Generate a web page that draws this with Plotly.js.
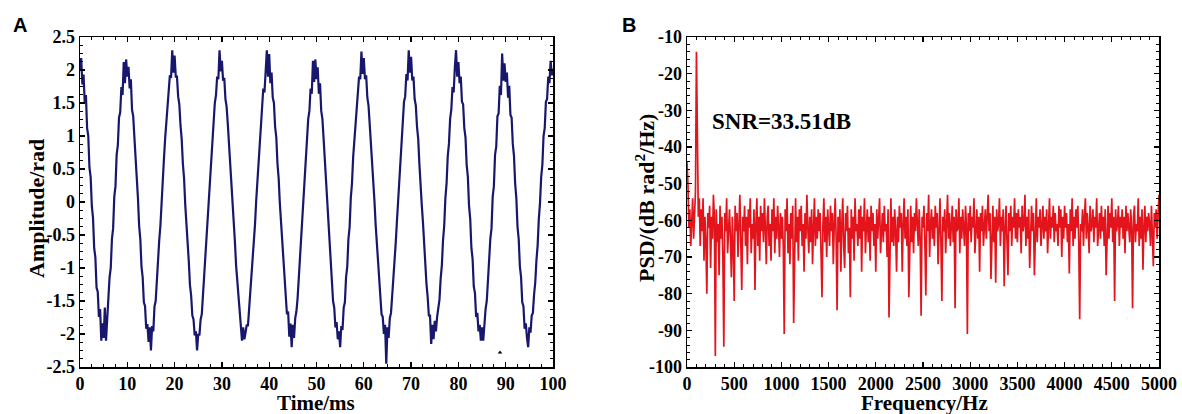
<!DOCTYPE html>
<html>
<head>
<meta charset="utf-8">
<script src="https://cdn.plot.ly/plotly-3.0.1.min.js"></script>
<style>html,body{margin:0;padding:0;background:#fff;}#chart{width:1182px;height:414px;}</style>
</head>
<body>
<div id="chart"></div>
<script>
// ---- Panel A: phase signal (sampled every 0.25 ms from 0 ms) ----
const timeStartMs = 0;
const timeStepMs = 0.25;
const phaseRad = [
  2.00, 2.18, 1.78, 1.93, 1.50, 1.62, 1.12, 1.00, 0.52, 0.38, -0.06, -0.24, -0.70, -0.84, -1.30, -1.36, -1.74, -1.62, -2.10, -1.84,
  -2.06, -1.60, -2.10, -1.72, -1.52, -1.14, -1.00, -0.56, -0.40, 0.08, 0.24, 0.72, 0.86, 1.28, 1.36, 1.74, 1.62, 2.12, 1.80, 2.16,
  1.90, 2.05, 1.72, 1.86, 1.40, 1.30, 0.98, 0.70, 0.36, 0.06, -0.36, -0.56, -0.98, -1.14, -1.52, -1.58, -1.92, -1.85, -2.12, -1.90,
  -2.25, -1.88, -1.96, -1.58, -1.50, -1.16, -0.96, -0.58, -0.36, 0.04, 0.30, 0.66, 0.96, 1.18, 1.50, 1.62, 1.92, 1.88, 2.30, 1.96,
  2.22, 1.90, 1.90, 1.60, 1.48, 1.16, 0.95, 0.58, 0.36, -0.04, -0.30, -0.68, -0.90, -1.26, -1.42, -1.72, -1.78, -2.02, -1.96, -2.25,
  -2.00, -2.02, -1.78, -1.70, -1.40, -1.24, -0.90, -0.66, -0.28, 0.04, 0.36, 0.60, 0.98, 1.16, 1.50, 1.62, 1.90, 1.86, 2.30, 1.98,
  2.14, 1.84, 1.88, 1.56, 1.44, 1.18, 0.90, 0.62, 0.30, 0.02, -0.34, -0.60, -0.96, -1.18, -1.50, -1.62, -1.86, -2.10, -1.90, -2.08,
  -1.98, -1.86, -1.88, -1.62, -1.48, -1.18, -0.94, -0.60, -0.34, 0.02, 0.30, 0.66, 0.92, 1.24, 1.40, 1.72, 1.66, 2.00, 2.30, 1.90,
  2.24, 1.80, 1.96, 1.58, 1.50, 1.14, 0.98, 0.58, 0.36, -0.02, -0.30, -0.66, -0.90, -1.24, -1.44, -1.70, -1.66, -2.04, -1.84, -2.20,
  -1.86, -2.06, -1.76, -1.66, -1.46, -1.16, -0.96, -0.58, -0.38, 0.06, 0.26, 0.70, 0.88, 1.26, 1.38, 1.72, 1.64, 2.14, 1.82, 2.16,
  1.86, 2.04, 1.64, 1.80, 1.38, 1.26, 0.96, 0.66, 0.34, 0.00, -0.36, -0.58, -0.98, -1.16, -1.50, -1.60, -1.90, -1.82, -2.08, -1.96,
  -2.20, -1.88, -1.94, -1.60, -1.52, -1.14, -0.98, -0.56, -0.38, 0.06, 0.28, 0.68, 0.94, 1.20, 1.48, 1.64, 1.90, 1.86, 2.28, 1.94,
  2.18, 1.86, 1.92, 1.58, 1.46, 1.18, 0.92, 0.62, 0.30, 0.02, -0.34, -0.62, -0.92, -1.22, -1.42, -1.70, -1.74, -2.00, -1.86, -2.45,
  -1.90, -2.06, -1.76, -1.68, -1.42, -1.20, -0.92, -0.62, -0.30, 0.00, 0.36, 0.58, 0.98, 1.14, 1.52, 1.60, 1.94, 1.84, 2.30, 1.96,
  2.20, 1.84, 1.90, 1.56, 1.46, 1.14, 0.96, 0.58, 0.34, -0.04, -0.30, -0.66, -0.92, -1.24, -1.44, -1.72, -1.72, -2.15, -1.86, -2.08,
  -1.80, -1.96, -1.74, -1.62, -1.48, -1.16, -0.96, -0.58, -0.36, 0.06, 0.28, 0.70, 0.88, 1.26, 1.40, 1.74, 1.66, 2.04, 2.30, 1.90,
  2.12, 1.80, 1.90, 1.52, 1.48, 1.12, 0.98, 0.56, 0.38, -0.06, -0.26, -0.70, -0.86, -1.28, -1.38, -1.74, -1.68, -1.96, -1.86, -2.10,
  -1.90, -2.10, -1.82, -1.62, -1.50, -1.14, -0.98, -0.56, -0.40, 0.08, 0.24, 0.72, 0.84, 1.30, 1.34, 1.76, 1.62, 2.25, 1.84, 2.10,
  1.82, 1.96, 1.58, 1.76, 1.32, 1.28, 0.88, 0.70, 0.28, 0.06, -0.38, -0.56, -0.98, -1.14, -1.52, -1.58, -1.92, -1.84, -2.06, -2.20,
  -1.90, -1.98, -1.72, -1.68, -1.40, -1.22, -0.88, -0.66, -0.26, -0.02, 0.38, 0.56, 1.00, 1.12, 1.52, 1.56, 1.90, 1.80, 2.14, 1.92,
  2.02
];
const markT = [88.8];
const markV = [-2.28];
const ampTickVals = [-2.5, -2, -1.5, -1, -0.5, 0, 0.5, 1, 1.5, 2, 2.5];
const ampTickText = ['-2.5', '-2', '-1.5', '-1', '-0.5', '0', '0.5', '1', '1.5', '2', '2.5'];
const timeTickVals = [0, 10, 20, 30, 40, 50, 60, 70, 80, 90, 100];
const timeTickText = ['0', '10', '20', '30', '40', '50', '60', '70', '80', '90', '100'];

// ---- Panel B: PSD (every 10 Hz from 0 Hz) ----
const freqStartHz = 0;
const freqStepHz = 10;
const psdDb = [
  -44, -50, -62, -57, -67, -59, -54, -65, -57, -52,
  -14, -50, -59, -54, -67, -57, -63, -54, -71, -59,
  -66, -80, -58, -62, -56, -73, -59, -65, -53, -59,
  -97, -57, -66, -61, -75, -56, -65, -59, -70, -94.5,
  -58, -63, -54, -69, -61, -57, -65, -75.5, -59, -67,
  -82, -56, -63, -58, -70, -62, -53, -66, -79, -59,
  -63, -56, -67, -59, -72, -57, -62, -54, -69, -61,
  -65, -57, -79, -61, -54, -67, -59, -71, -56, -63,
  -58, -66, -54, -62, -72, -59, -56, -67, -61, -71,
  -57, -63, -54, -69, -59, -65, -56, -62, -70, -58,
  -65, -59, -67, -91, -57, -63, -54, -69, -61, -72,
  -58, -65, -56, -88, -62, -54, -66, -59, -71, -57,
  -63, -56, -67, -61, -74, -58, -65, -53, -62, -69,
  -59, -66, -57, -72, -62, -54, -67, -59, -65, -57,
  -63, -58, -69, -81, -61, -54, -66, -59, -70, -57,
  -62, -67, -56, -63, -58, -72, -61, -54, -65, -84.5,
  -59, -66, -57, -74, -61, -54, -67, -73, -58, -63,
  -56, -69, -62, -81, -57, -65, -59, -71, -54, -63,
  -61, -67, -57, -65, -56, -74, -59, -63, -54, -69,
  -62, -57, -66, -59, -71, -56, -63, -58, -67, -61,
  -74, -57, -65, -59, -54, -69, -62, -58, -66, -56,
  -63, -61, -70, -57, -86.5, -62, -54, -66, -59, -67,
  -57, -63, -74, -59, -66, -56, -62, -58, -74, -61,
  -54, -65, -59, -67, -57, -81, -62, -56, -66, -59,
  -69, -58, -63, -54, -61, -67, -57, -65, -86, -59,
  -62, -56, -66, -80.5, -58, -63, -53, -70, -61, -57,
  -65, -59, -67, -56, -62, -58, -72, -61, -54, -66,
  -82, -59, -63, -57, -69, -61, -53, -65, -58, -67,
  -61, -56, -66, -59, -84, -57, -63, -62, -54, -69,
  -59, -65, -57, -62, -67, -56, -61, -91, -58, -63,
  -56, -66, -59, -62, -54, -69, -61, -57, -65, -59,
  -74, -58, -63, -56, -67, -61, -57, -65, -59, -53,
  -63, -58, -76, -61, -56, -66, -59, -77, -57, -63,
  -61, -54, -67, -59, -63, -57, -78, -62, -56, -66,
  -75, -58, -63, -56, -67, -59, -62, -54, -65, -58,
  -66, -57, -62, -59, -69, -56, -63, -61, -53, -67,
  -59, -65, -57, -73, -61, -56, -63, -58, -75, -62,
  -54, -66, -59, -62, -57, -67, -61, -56, -65, -59,
  -63, -57, -69, -61, -54, -65, -59, -62, -56, -66,
  -58, -63, -61, -67, -56, -62, -57, -70, -59, -65,
  -56, -62, -58, -66, -61, -74.5, -57, -63, -54, -67,
  -59, -65, -57, -62, -56, -66, -87, -61, -63, -57,
  -67, -59, -54, -65, -58, -62, -69, -56, -63, -61,
  -57, -66, -59, -62, -54, -67, -61, -58, -65, -56,
  -63, -59, -67, -57, -75, -61, -56, -65, -58, -62,
  -54, -66, -59, -82, -57, -63, -61, -56, -67, -59,
  -62, -57, -65, -59, -69, -56, -63, -58, -61, -66,
  -57, -62, -84, -59, -56, -66, -61, -63, -54, -67,
  -59, -65, -57, -73.5, -62, -56, -66, -59, -63, -58,
  -61, -67, -56, -63, -72.5, -58, -62, -57, -65, -59,
  -53
];
const psdTickVals = [-100, -90, -80, -70, -60, -50, -40, -30, -20, -10];
const psdTickText = ['-100', '-90', '-80', '-70', '-60', '-50', '-40', '-30', '-20', '-10'];
const freqTickVals = [0, 500, 1000, 1500, 2000, 2500, 3000, 3500, 4000, 4500, 5000];
const freqTickText = ['0', '500', '1000', '1500', '2000', '2500', '3000', '3500', '4000', '4500', '5000'];
const snrText = 'SNR=33.51dB';
const titleTimeText = 'Time/ms';
const titleAmpText = 'Amplitude/rad';
const titleFreqText = 'Frequency/Hz';
const titlePsdText = 'PSD/(dB rad<sup>2</sup>/Hz)';

const serif = 'Liberation Serif, Times New Roman, serif';
const tickFont = {family: serif, size: 18, color: '#000', weight: 700};
const xTitleFont = {family: serif, size: 21, color: '#000', weight: 700};
const yTitleFont = {family: serif, size: 22, color: '#000', weight: 700};
const W = 1182, H = 414;

function axisBase(extra) {
  return Object.assign({
    showline: true, linecolor: '#000', linewidth: 1.5, mirror: 'ticks',
    ticks: 'inside', ticklen: 5, tickwidth: 1.3, tickcolor: '#000',
    showgrid: false, zeroline: false, tickmode: 'array', tickfont: tickFont,
    automargin: false, fixedrange: true
  }, extra);
}

const traces = [
  {type: 'scatter', mode: 'lines', x0: timeStartMs, dx: timeStepMs, y: phaseRad,
   line: {color: '#17176e', width: 2.2}, xaxis: 'x', yaxis: 'y', hoverinfo: 'skip'},
  {type: 'scatter', mode: 'markers', x: markT, y: markV,
   marker: {symbol: 'triangle-up', size: 4, color: '#000'}, xaxis: 'x', yaxis: 'y', hoverinfo: 'skip'},
  {type: 'scatter', mode: 'lines', x0: freqStartHz, dx: freqStepHz, y: psdDb,
   line: {color: '#e3141b', width: 1.7}, xaxis: 'x2', yaxis: 'y2', hoverinfo: 'skip'}
];

const layout = {
  width: W, height: H,
  margin: {l: 0, r: 0, t: 0, b: 0},
  paper_bgcolor: '#fff', plot_bgcolor: '#fff',
  showlegend: false,
  xaxis: axisBase({domain: [80/W, 553/W], range: [0, 100], anchor: 'y',
    tickvals: timeTickVals, ticktext: timeTickText,
    minor: {ticks: 'inside', ticklen: 3, dtick: 2.5, tick0: 0, tickcolor: '#000', tickwidth: 1}}),
  yaxis: axisBase({domain: [1 - 367/H, 1 - 37/H], range: [-2.5, 2.5], anchor: 'x',
    tickvals: ampTickVals, ticktext: ampTickText,
    minor: {ticks: 'inside', ticklen: 3, dtick: 0.125, tick0: 0, tickcolor: '#000', tickwidth: 1}}),
  xaxis2: axisBase({domain: [687/W, 1159/W], range: [0, 5000], anchor: 'y2',
    tickvals: freqTickVals, ticktext: freqTickText,
    minor: {ticks: 'inside', ticklen: 3, dtick: 100, tick0: 0, tickcolor: '#000', tickwidth: 1}}),
  yaxis2: axisBase({domain: [1 - 367/H, 1 - 37/H], range: [-100, -10], anchor: 'x2',
    tickvals: psdTickVals, ticktext: psdTickText,
    minor: {ticks: 'inside', ticklen: 3, dtick: 2, tick0: 0, tickcolor: '#000', tickwidth: 1}}),
  annotations: [
    {xref: 'paper', yref: 'paper', x: 316/W, y: 1 - 403/H, xanchor: 'center', yanchor: 'middle', showarrow: false,
     text: titleTimeText, font: xTitleFont},
    {xref: 'paper', yref: 'paper', x: 924/W, y: 1 - 403/H, xanchor: 'center', yanchor: 'middle', showarrow: false,
     text: titleFreqText, font: xTitleFont},
    {xref: 'paper', yref: 'paper', x: 36/W, y: 1 - 209/H, xanchor: 'center', yanchor: 'middle', showarrow: false,
     textangle: -90, text: titleAmpText, font: yTitleFont},
    {xref: 'paper', yref: 'paper', x: 645/W, y: 1 - 198/H, xanchor: 'center', yanchor: 'middle', showarrow: false,
     textangle: -90, text: titlePsdText, font: yTitleFont},
    {xref: 'x2', yref: 'y2', x: 240, y: -33, xanchor: 'left', yanchor: 'middle', showarrow: false,
     text: snrText, font: {family: serif, size: 23, color: '#000', weight: 700}},
    {xref: 'paper', yref: 'paper', x: 11/W, y: 1 - 25/H, xanchor: 'left', yanchor: 'middle', showarrow: false,
     text: 'A', font: {family: 'Liberation Sans, Arial, sans-serif', size: 20, color: '#000', weight: 700}},
    {xref: 'paper', yref: 'paper', x: 620/W, y: 1 - 25/H, xanchor: 'left', yanchor: 'middle', showarrow: false,
     text: 'B', font: {family: 'Liberation Sans, Arial, sans-serif', size: 20, color: '#000', weight: 700}}
  ]
};

Plotly.newPlot('chart', traces, layout, {staticPlot: true, displayModeBar: false});
</script>
</body>
</html>
